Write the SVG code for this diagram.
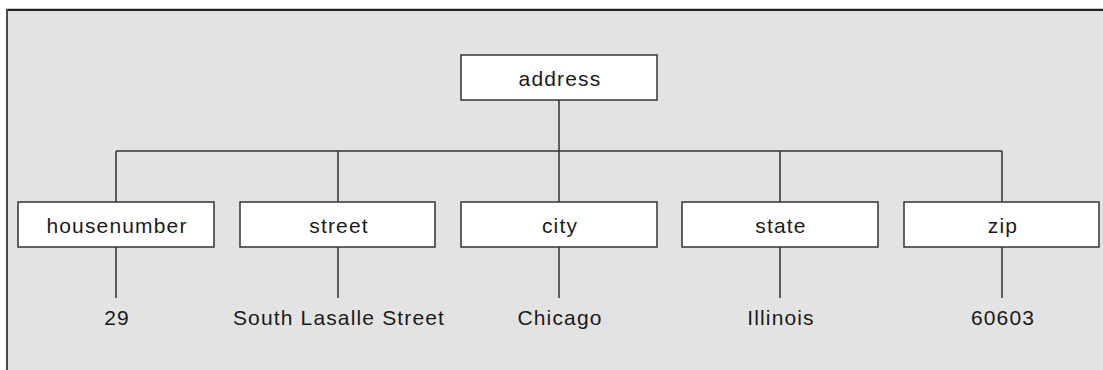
<svg xmlns="http://www.w3.org/2000/svg" width="1103" height="370" viewBox="0 0 1103 370">
<style>
.box{fill:#fff;stroke:#333;stroke-width:1.5}
.t{font-family:"Liberation Sans",Arial,sans-serif;font-size:21px;letter-spacing:1.15px;fill:#1a1a1a;text-anchor:middle}
.c{stroke:#333;stroke-width:1.5;fill:none}
</style>
<rect x="0" y="0" width="1103" height="370" fill="#fff"/>
<rect x="7" y="9" width="1096" height="361" fill="#e3e3e3"/>
<line x1="6" y1="8.5" x2="1103" y2="8.5" stroke="#c8c8c8" stroke-width="1"/>
<line x1="7" y1="10" x2="1103" y2="10" stroke="#222" stroke-width="2"/>
<line x1="7" y1="9" x2="7" y2="370" stroke="#4a4a4a" stroke-width="2"/>
<g id="connectors" class="c">
<path d="M559 100V151M116 151H1002M116 151V202M338 151V202M780 151V202M1002 151V202M559 151V202"/>
<path d="M116 247V298M338 247V298M559 247V298M780 247V298M1002 247V298"/>
</g>
<g id="address"><rect class="box" x="461" y="55" width="196" height="45"/><text class="t" x="560" y="85.5">address</text></g>
<g id="housenumber"><rect class="box" x="18" y="202" width="196" height="45"/><text class="t" x="117" y="232.5">housenumber</text></g>
<g id="street"><rect class="box" x="240" y="202" width="195" height="45"/><text class="t" x="339" y="232.5">street</text></g>
<g id="city"><rect class="box" x="461" y="202" width="196" height="45"/><text class="t" x="560" y="232.5">city</text></g>
<g id="state"><rect class="box" x="682" y="202" width="196" height="45"/><text class="t" x="781" y="232.5">state</text></g>
<g id="zip"><rect class="box" x="904" y="202" width="195" height="45"/><text class="t" x="1003" y="232.5">zip</text></g>
<g id="v29"><text class="t" x="117" y="324.5">29</text></g>
<g id="vstreet"><text class="t" x="339" y="324.5">South Lasalle Street</text></g>
<g id="vcity"><text class="t" x="560" y="324.5">Chicago</text></g>
<g id="vstate"><text class="t" x="781" y="324.5">Illinois</text></g>
<g id="vzip"><text class="t" x="1003" y="324.5">60603</text></g>
</svg>
